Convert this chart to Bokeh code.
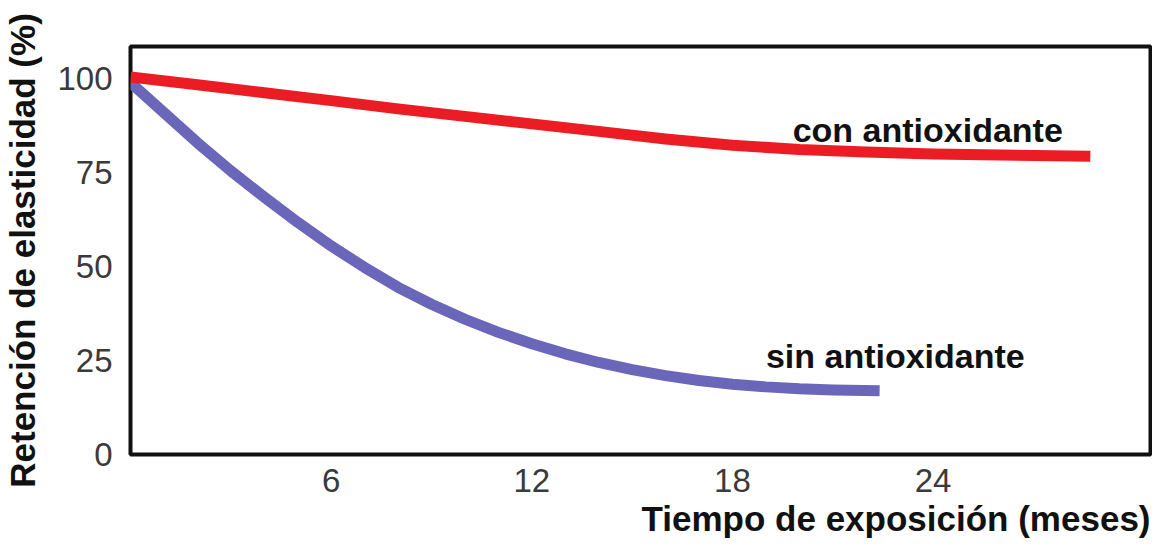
from bokeh.plotting import figure
from bokeh.models import Range1d, FixedTicker, Label, Title
from bokeh.embed import file_html
from bokeh.resources import INLINE

# Data
meses_con = [0, 2, 4, 6, 8, 10, 12, 14, 16, 18, 20, 22, 24, 26, 28.7]
ret_con = [100.5, 98.4, 96.3, 94.2, 92.0, 90.0, 88.0, 86.0, 84.0, 82.3, 81.2, 80.5, 80.0, 79.7, 79.4]

meses_sin = [0, 1, 2, 3, 4, 5, 6, 7, 8, 9, 10, 11, 12, 13, 14, 15, 16, 17, 18, 19, 20, 21, 22.4]
ret_sin = [99.0, 91.0, 83.0, 75.5, 68.5, 61.8, 55.5, 49.8, 44.5, 40.0, 36.0, 32.5,
           29.5, 26.8, 24.5, 22.6, 21.0, 19.7, 18.7, 18.0, 17.5, 17.2, 17.0]

x_ticks = [6, 12, 18, 24]
y_ticks = [0, 25, 50, 75, 100]

label_con = "con antioxidante"
label_sin = "sin antioxidante"
x_title = "Tiempo de exposición (meses)"
y_title = "Retención de elasticidad (%)"

RED = "#ec1c24"
BLUE = "#6a66b9"

p = figure(width=1152, height=539, output_backend="svg", toolbar_location=None,
           x_range=Range1d(0, 30.5), y_range=Range1d(0, 108.6),
           min_border_left=124, min_border_right=2, min_border_top=46, min_border_bottom=0)

p.background_fill_color = "white"
p.border_fill_color = "white"
p.outline_line_color = "#111111"
p.outline_line_width = 4
p.outline_line_alpha = 1.0
p.grid.visible = False

for ax in (p.xaxis, p.yaxis):
    ax.axis_line_color = None
    ax.major_tick_line_color = None
    ax.minor_tick_line_color = None
    ax.major_label_text_font = "Liberation Sans"
    ax.major_label_text_font_size = "33px"
    ax.major_label_text_color = "#3a3a3a"

p.xaxis.ticker = FixedTicker(ticks=x_ticks)
p.yaxis.ticker = FixedTicker(ticks=y_ticks)
p.xaxis.major_label_standoff = 8
p.yaxis.major_label_standoff = 12

p.yaxis.axis_label = y_title
p.yaxis.axis_label_text_font = "Liberation Sans"
p.yaxis.axis_label_text_font_style = "bold"
p.yaxis.axis_label_text_font_size = "35px"
p.yaxis.axis_label_text_color = "#111111"
p.yaxis.axis_label_standoff = 12

p.line(meses_sin, ret_sin, line_color=BLUE, line_width=11, line_cap="butt", line_join="round")
p.line(meses_con, ret_con, line_color=RED, line_width=11, line_cap="butt", line_join="round")

p.add_layout(Label(x=19.8, y=86.3, text=label_con, text_font="Liberation Sans",
                   text_font_style="bold", text_font_size="34px", text_color="#111111",
                   text_align="left", text_baseline="alphabetic"))
p.add_layout(Label(x=19.0, y=26.1, text=label_sin, text_font="Liberation Sans",
                   text_font_style="bold", text_font_size="34px", text_color="#111111",
                   text_align="left", text_baseline="alphabetic"))

xt = Title(text=x_title, align="right", text_font="Liberation Sans",
           text_font_style="bold", text_font_size="35px", text_color="#111111",
           standoff=4, offset=0)
p.add_layout(xt, "below")

open("out.html", "w").write(file_html(p, INLINE))
